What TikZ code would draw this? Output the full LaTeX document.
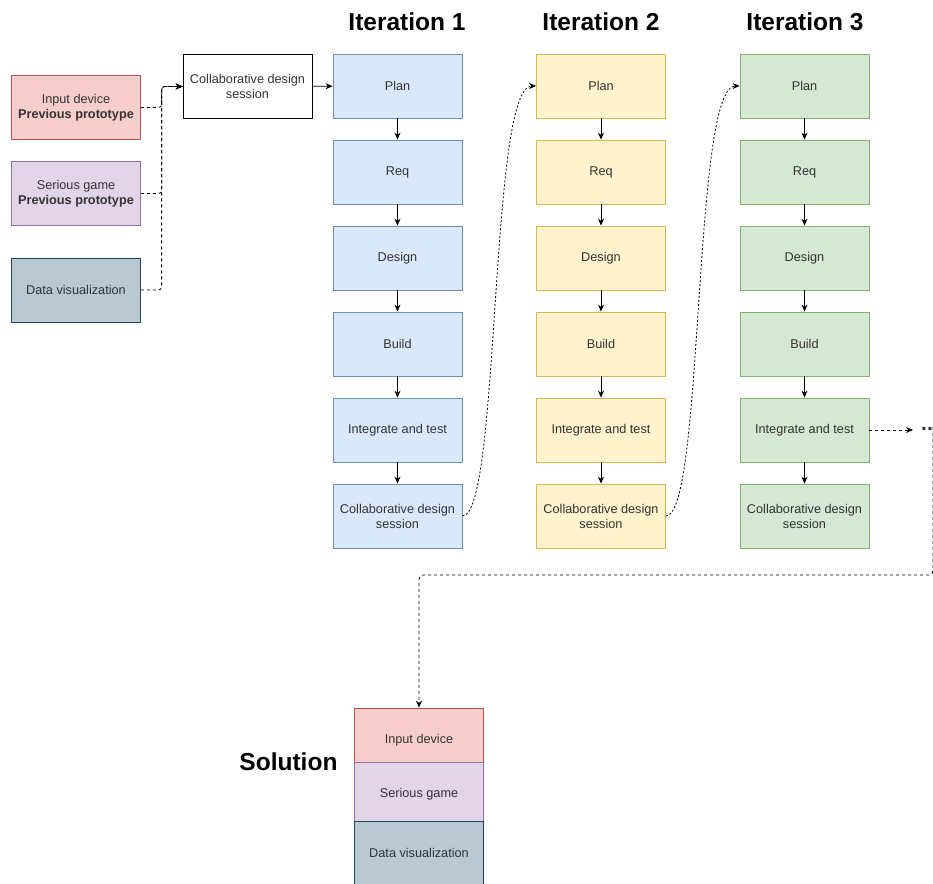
\documentclass[tikz,border=0pt]{standalone}
\usepackage{fontspec}
\setmainfont{Liberation Sans}
\usepackage{xcolor}
\definecolor{colRed}{HTML}{F8CECC}
\definecolor{colRedLine}{HTML}{B85450}
\definecolor{colPurple}{HTML}{E1D5E7}
\definecolor{colPurpleLine}{HTML}{9673A6}
\definecolor{colSlate}{HTML}{BAC8D3}
\definecolor{colSlateLine}{HTML}{23445D}
\definecolor{colBlue}{HTML}{DAE8FC}
\definecolor{colBlueLine}{HTML}{6C8EBF}
\definecolor{colYellow}{HTML}{FFF2CC}
\definecolor{colYellowLine}{HTML}{D6B656}
\definecolor{colGreen}{HTML}{D5E8D4}
\definecolor{colGreenLine}{HTML}{82B366}
\usetikzlibrary{arrows.meta}

\begin{document}
\begin{tikzpicture}[x=1pt, y=-1pt, >={Stealth[length=7pt, width=6pt]},
		every node/.style={font=\fontsize{12.7}{15}\selectfont, text=black!80},
		box/.style={draw, line width=0.8pt, minimum width=129pt, minimum height=64pt, align=center, inner sep=2pt},
		heading/.style={font=\fontsize{24.5}{28}\selectfont\bfseries, text=black},
		link/.style={->, line width=0.8pt, dash pattern=on 3pt off 3pt}]
	\useasboundingbox (0,0) rectangle (933,883);
	\node[box, fill=colRed, draw=colRedLine] (inDev) at (76,107.5) {Input device\\\textbf{Previous prototype}};
	\node[box, fill=colPurple, draw=colPurpleLine] (inGame) at (76,193.5) {Serious game\\\textbf{Previous prototype}};
	\node[box, fill=colSlate, draw=colSlateLine] (inVis) at (76,290) {Data visualization};
	\node[box] (collab) at (247.5,86.5) {Collaborative design\\session};
	\foreach \c/\x/\tx/\f/\d in {1/397.5/407/colBlue/colBlueLine, 2/601/601/colYellow/colYellowLine, 3/804.5/805/colGreen/colGreenLine}{
		\node[heading] (iter\c) at (\tx,22) {Iteration \c};
		\foreach \r/\l in {0/Plan, 1/Req, 2/Design, 3/Build, 4/Integrate and test, 5/{Collaborative design\\session}}
			\node[box, fill=\f, draw=\d] (s\c-\r) at (\x,86+86*\r) {\l};
		\foreach \r [evaluate=\r as \n using int(\r+1)] in {0,...,4}
			\draw[->, line width=0.8pt] (s\c-\r) -- (s\c-\n);
	}
	\draw[->, line width=0.8pt] (collab) -- (s1-0);
	\coordinate (jn) at ([xshift=-21pt]collab.west);
	\foreach \n in {inDev, inGame, inVis}
		\draw[link, rounded corners=3pt] (\n.east) -| (jn) -- (collab.west);
	\draw[link, dash pattern=on 2pt off 2pt] (s1-5.east) .. controls +(38,0) and +(-47,0) .. (s2-0.west);
	\draw[link, dash pattern=on 2pt off 2pt] (s2-5.east) .. controls +(38,0) and +(-47,0) .. (s3-0.west);
	\node[font=\fontsize{21}{24}\selectfont\bfseries, anchor=base west, inner sep=0pt] (more) at (921,430) {...};
	\draw[link, shorten >=8pt] (s3-4.east) -- (s3-4.east -| more.west);
	\node[box, fill=colRed, draw=colRedLine] (sol1) at (419,740) {Input device};
	\node[box, fill=colPurple, draw=colPurpleLine] (sol2) at (419,794) {Serious game};
	\node[box, fill=colSlate, draw=colSlateLine] (sol3) at (419,853) {Data visualization};
	\node[heading, anchor=east] (solTitle) at (341,762) {Solution};
	\coordinate (edge) at (933,427);
	\draw[link, rounded corners=4pt] (edge) -- (933,575) -| (sol1.north);
\end{tikzpicture}
\end{document}
